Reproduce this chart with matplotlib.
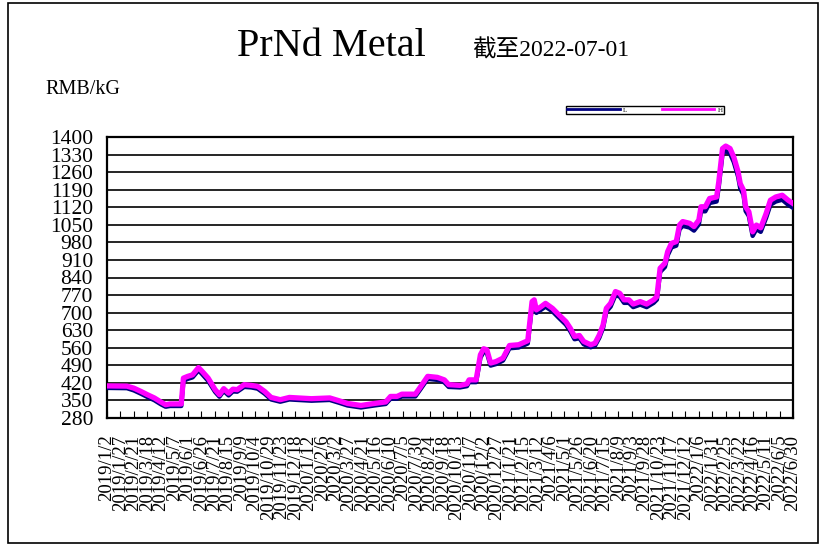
import pandas as pd
import matplotlib
matplotlib.use("Agg")
import matplotlib.pyplot as plt
from matplotlib.patches import Rectangle
from matplotlib.lines import Line2D

plt.rcParams['font.family'] = ['Liberation Serif', 'Noto Sans CJK SC', 'DejaVu Sans']

# price readings (RMB/kG)
dates = ["2019-01-02", "2019-02-08", "2019-02-21", "2019-03-06", "2019-03-18", "2019-03-31",
         "2019-04-12", "2019-04-21", "2019-04-29", "2019-05-20", "2019-05-24", "2019-06-01",
         "2019-06-10", "2019-06-21", "2019-06-27", "2019-07-09", "2019-07-22", "2019-07-30",
         "2019-08-07", "2019-08-16", "2019-08-24", "2019-09-01", "2019-09-14", "2019-09-27",
         "2019-10-09", "2019-10-22", "2019-11-03", "2019-11-20", "2019-12-07", "2019-12-23",
         "2020-01-17", "2020-02-20", "2020-03-08", "2020-03-24", "2020-04-18", "2020-05-13",
         "2020-06-03", "2020-06-12", "2020-06-24", "2020-07-03", "2020-07-28", "2020-08-05",
         "2020-08-20", "2020-09-07", "2020-09-20", "2020-09-28", "2020-10-19", "2020-11-01",
         "2020-11-05", "2020-11-18", "2020-11-26", "2020-12-02", "2020-12-08", "2020-12-15",
         "2020-12-25", "2021-01-07", "2021-01-15", "2021-01-19", "2021-02-05", "2021-02-22",
         "2021-03-02", "2021-03-06", "2021-03-10", "2021-03-19", "2021-03-27", "2021-04-09",
         "2021-04-21", "2021-05-04", "2021-05-12", "2021-05-20", "2021-05-29", "2021-06-06",
         "2021-06-19", "2021-06-27", "2021-07-05", "2021-07-12", "2021-07-18", "2021-07-26",
         "2021-08-04", "2021-08-12", "2021-08-20", "2021-08-29", "2021-09-06", "2021-09-19",
         "2021-10-01", "2021-10-14", "2021-10-20", "2021-10-26", "2021-11-04", "2021-11-09",
         "2021-11-16", "2021-11-25", "2021-12-01", "2021-12-07", "2021-12-20", "2021-12-28",
         "2022-01-06", "2022-01-10", "2022-01-18", "2022-01-26", "2022-02-08", "2022-02-12",
         "2022-02-19", "2022-02-25", "2022-03-05", "2022-03-12", "2022-03-20", "2022-03-24",
         "2022-03-30", "2022-04-03", "2022-04-09", "2022-04-16", "2022-04-23", "2022-05-01",
         "2022-05-11", "2022-05-19", "2022-05-29", "2022-06-10", "2022-06-21", "2022-06-30"]

high = [408, 407, 399, 386, 373, 360,
        344, 333, 336, 336, 439, 446,
        452, 481, 468, 439, 393, 373,
        397, 379, 395, 393, 413, 410,
        406, 386, 362, 353, 362, 360,
        357, 360, 349, 338, 330, 338,
        344, 366, 366, 375, 375, 399,
        446, 442, 432, 413, 410, 416,
        432, 432, 532, 556, 552, 499,
        505, 519, 552, 569, 572, 588,
        744, 751, 711, 724, 737, 717,
        691, 664, 638, 605, 609, 585,
        572, 578, 611, 651, 717, 737,
        784, 777, 751, 751, 734, 744,
        734, 751, 764, 877, 897, 943,
        976, 983, 1049, 1063, 1056, 1043,
        1069, 1122, 1122, 1155, 1161, 1221,
        1354, 1364, 1354, 1320, 1261, 1214,
        1188, 1122, 1102, 1022, 1049, 1038,
        1095, 1148, 1161, 1168, 1148, 1135]

low = [400, 399, 390, 377, 364, 351,
       335, 325, 328, 328, 428, 436,
       442, 470, 457, 428, 384, 365,
       388, 370, 386, 385, 404, 402,
       397, 377, 354, 345, 354, 352,
       349, 352, 341, 330, 322, 330,
       336, 357, 357, 366, 366, 390,
       436, 432, 422, 404, 402, 407,
       423, 423, 520, 544, 540, 489,
       495, 509, 541, 558, 561, 577,
       730, 738, 699, 712, 724, 705,
       679, 652, 626, 594, 598, 574,
       562, 568, 600, 639, 704, 724,
       770, 764, 739, 739, 722, 732,
       722, 739, 752, 862, 882, 928,
       960, 967, 1032, 1046, 1039, 1027,
       1052, 1104, 1104, 1137, 1143, 1202,
       1334, 1344, 1334, 1300, 1242, 1195,
       1170, 1105, 1085, 1006, 1033, 1022,
       1078, 1130, 1143, 1150, 1130, 1118]

title = "PrNd Metal"
subtitle = "截至2022-07-01"
unit = "RMB/kG"

x = pd.to_datetime(dates)
ticks = pd.date_range("2019-01-02", "2022-06-30", freq="25D")
tick_labels = [f"{d.year}/{d.month}/{d.day}" for d in ticks]

fig = plt.figure(figsize=(8.25, 5.48), dpi=100)
ax = fig.add_axes([107/825, 1-418/548, 686/825, 281/548])

ax.plot(x, low, color="#000080", lw=3.2, label="L", zorder=3)
ax.plot(x, high, color="#FF00FF", lw=3.8, label="H", zorder=4)

ax.set_xlim(ticks[0], ticks[-1])
ax.set_ylim(280, 1400)
ax.set_yticks(range(280, 1401, 70))
ax.grid(axis="y", color="black", lw=1.2)
ax.set_axisbelow(True)
ax.tick_params(axis="y", length=0, pad=10, labelsize=15.5)
ax.set_xticks(ticks)
ax.set_xticklabels(tick_labels, rotation=90, fontsize=13.5)
ax.tick_params(axis="x", direction="in", length=5, pad=12, color="black")
for s in ax.spines.values():
    s.set_linewidth(1.6)

fig.text(331/825, 1-46/548, title, fontsize=29, ha="center", va="center")
fig.text(551/825, 1-50/548, subtitle, fontsize=17, ha="center", va="center")
fig.text(45/825, 1-90/548, unit, fontsize=14.5, ha="left", va="center")

# small legend box top right
handles = [Line2D([], [], color="#000080", lw=2), Line2D([], [], color="#FF00FF", lw=2)]
leg = fig.legend(handles, ["L", "H"], ncol=2,
                 bbox_to_anchor=(645/825, 1-110/548),
                 loc="center", fontsize=5, fancybox=False, edgecolor="black",
                 borderpad=0.15, handlelength=7.5, handletextpad=0.5, columnspacing=5,
                 borderaxespad=0, framealpha=1)
leg.get_frame().set_linewidth(1)

fig.patches.append(Rectangle((8/825, 5/548), 810/825, 540/548, transform=fig.transFigure,
                             fill=False, edgecolor="black", lw=1.2))

fig.savefig("out.png", dpi=100)
